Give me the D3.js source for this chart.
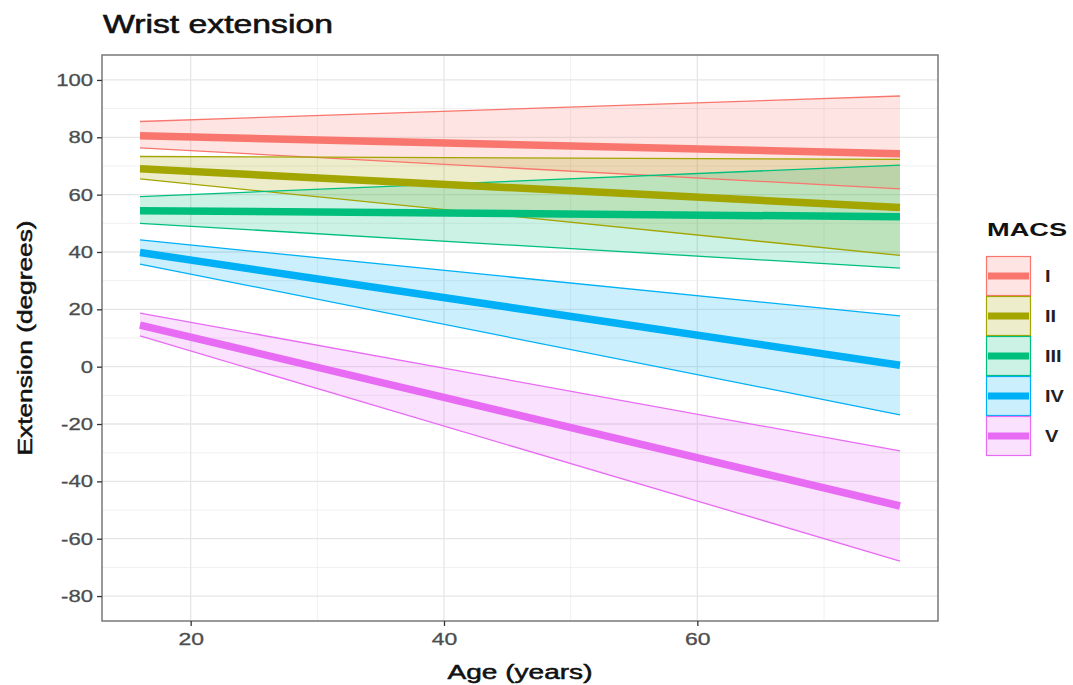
<!DOCTYPE html>
<html>
<head>
<meta charset="utf-8">
<script src="https://cdn.jsdelivr.net/npm/d3@7"></script>
<style>
  body { margin: 0; background: #fff; }
  text { font-family: "Liberation Sans", Arial, sans-serif; }
</style>
</head>
<body>
<div id="chart"></div>
<script>
// age range covered by the fitted lines
const ages = [16, 76];
const groups = ["I", "II", "III", "IV", "V"];
const palette = ["#F8766D", "#A3A500", "#00BF7D", "#00B0F6", "#E76BF3"];

// [value at 16, value at 76] per MACS level
const fitLine = [[80.5, 74.3], [69, 55.5], [54.4, 52.3], [39.8, 0.5], [14.5, -48.6]];
const upperCI = [[85.5, 94.4], [73.3, 72.3], [59.3, 70.3], [44.2, 17.7], [18.7, -29.4]];
const lowerCI = [[76.3, 62], [65.5, 38.8], [50, 34.4], [35.8, -16.8], [10.7, -67.8]];

const xTicks = [20, 40, 60];
const xMinor = [30, 50, 70];
const yTicks = [-80, -60, -40, -20, 0, 20, 40, 60, 80, 100];
const yMinor = [-70, -50, -30, -10, 10, 30, 50, 70, 90];

const W = 1073, H = 685;
const panel = { left: 102, right: 938, top: 55, bottom: 621 };

const svg = d3.select("#chart")
  .append("svg")
  .attr("width", W)
  .attr("height", H);

const x = d3.scaleLinear().domain([13, 79]).range([panel.left, panel.right]);
const y = d3.scaleLinear().domain([-88.7, 108.7]).range([panel.bottom, panel.top]);

// stretch text horizontally, the source picture is wider than it is tall
function stretch(sel, k) {
  sel.each(function () {
    const len = this.getComputedTextLength();
    d3.select(this).attr("textLength", len * k).attr("lengthAdjust", "spacingAndGlyphs");
  });
}

// grid
const grid = svg.append("g");
grid.selectAll("line.ymin").data(yMinor).join("line")
  .attr("x1", panel.left).attr("x2", panel.right)
  .attr("y1", d => y(d)).attr("y2", d => y(d))
  .attr("stroke", "#f0f0f0").attr("stroke-width", 1);
grid.selectAll("line.xmin").data(xMinor).join("line")
  .attr("y1", panel.top).attr("y2", panel.bottom)
  .attr("x1", d => x(d)).attr("x2", d => x(d))
  .attr("stroke", "#f0f0f0").attr("stroke-width", 1);
grid.selectAll("line.ymaj").data(yTicks).join("line")
  .attr("x1", panel.left).attr("x2", panel.right)
  .attr("y1", d => y(d)).attr("y2", d => y(d))
  .attr("stroke", "#e6e6e6").attr("stroke-width", 1.3);
grid.selectAll("line.xmaj").data(xTicks).join("line")
  .attr("y1", panel.top).attr("y2", panel.bottom)
  .attr("x1", d => x(d)).attr("x2", d => x(d))
  .attr("stroke", "#e6e6e6").attr("stroke-width", 1.3);

// ribbons
const area = d3.area()
  .x((d, i) => x(ages[i]))
  .y0(d => y(d[0]))
  .y1(d => y(d[1]));
const line = d3.line()
  .x((d, i) => x(ages[i]))
  .y(d => y(d));

const bands = groups.map((g, i) => ({
  g, i,
  band: ages.map((a, j) => [lowerCI[i][j], upperCI[i][j]])
}));

svg.append("g").selectAll("path")
  .data(bands).join("path")
  .attr("d", d => area(d.band))
  .attr("fill", d => palette[d.i])
  .attr("fill-opacity", 0.2);

svg.append("g").selectAll("path")
  .data(groups.flatMap((g, i) => [upperCI[i], lowerCI[i]].map(v => ({ i, v }))))
  .join("path")
  .attr("d", d => line(d.v))
  .attr("fill", "none")
  .attr("stroke", d => palette[d.i])
  .attr("stroke-width", 1.3);

svg.append("g").selectAll("path")
  .data(groups.map((g, i) => ({ i, v: fitLine[i] })))
  .join("path")
  .attr("d", d => line(d.v))
  .attr("fill", "none")
  .attr("stroke", d => palette[d.i])
  .attr("stroke-width", 7.5);

// panel border
svg.append("rect")
  .attr("x", panel.left).attr("y", panel.top)
  .attr("width", panel.right - panel.left)
  .attr("height", panel.bottom - panel.top)
  .attr("fill", "none")
  .attr("stroke", "#808080")
  .attr("stroke-width", 1.6);

// axes (plain hyphen for negatives, as in the source)
const fmt = d => String(d);
const xAxis = svg.append("g")
  .attr("transform", `translate(0,${panel.bottom})`)
  .call(d3.axisBottom(x).tickValues(xTicks).tickFormat(fmt).tickSize(5).tickSizeOuter(0).tickPadding(4));
const yAxis = svg.append("g")
  .attr("transform", `translate(${panel.left},0)`)
  .call(d3.axisLeft(y).tickValues(yTicks).tickFormat(fmt).tickSize(5).tickSizeOuter(0).tickPadding(4));
[xAxis, yAxis].forEach(a => {
  a.select(".domain").remove();
  a.selectAll(".tick line").attr("stroke", "#333").attr("stroke-width", 1.3);
  a.selectAll(".tick text")
    .attr("fill", "#4d4d4d")
    .attr("stroke", "#4d4d4d").attr("stroke-width", 0.3)
    .style("font-size", "17px")
    .style("font-family", "'Liberation Sans', Arial, sans-serif");
});
xAxis.selectAll(".tick text").attr("dy", "0.9em");
stretch(xAxis.selectAll(".tick text"), 1.35);
stretch(yAxis.selectAll(".tick text"), 1.3);

// titles
svg.append("text")
  .attr("x", 103).attr("y", 33)
  .style("font-size", "26px")
  .attr("fill", "#111").attr("stroke", "#111").attr("stroke-width", 0.6)
  .attr("textLength", 230).attr("lengthAdjust", "spacingAndGlyphs")
  .text("Wrist extension");

svg.append("text")
  .attr("x", (panel.left + panel.right) / 2).attr("y", 679)
  .attr("text-anchor", "middle")
  .style("font-size", "20px")
  .attr("fill", "#111").attr("stroke", "#111").attr("stroke-width", 0.5)
  .attr("textLength", 145).attr("lengthAdjust", "spacingAndGlyphs")
  .text("Age (years)");

svg.append("text")
  .attr("transform", `translate(32,${(panel.top + panel.bottom) / 2}) rotate(-90)`)
  .attr("text-anchor", "middle")
  .style("font-size", "20px")
  .attr("fill", "#111").attr("stroke", "#111").attr("stroke-width", 0.5)
  .attr("textLength", 235).attr("lengthAdjust", "spacingAndGlyphs")
  .text("Extension (degrees)");

// legend
const legend = svg.append("g").attr("transform", "translate(986,256)");
legend.append("text")
  .attr("x", 1).attr("y", -20)
  .style("font-size", "18px").style("font-weight", "bold")
  .attr("fill", "#111")
  .attr("textLength", 80).attr("lengthAdjust", "spacingAndGlyphs")
  .text("MACS");

const keyH = 40, keyW = 44;
const keys = legend.selectAll("g.key")
  .data(groups).join("g")
  .attr("transform", (d, i) => `translate(0,${i * keyH})`);
keys.append("rect")
  .attr("x", 0.5).attr("y", 0.5)
  .attr("width", keyW).attr("height", keyH - 1)
  .attr("fill", (d, i) => palette[i]).attr("fill-opacity", 0.2)
  .attr("stroke", (d, i) => palette[i]).attr("stroke-width", 1.2);
keys.append("line")
  .attr("x1", 2).attr("x2", keyW - 1)
  .attr("y1", keyH / 2).attr("y2", keyH / 2)
  .attr("stroke", (d, i) => palette[i]).attr("stroke-width", 7);
const keyLabels = keys.append("text")
  .attr("x", keyW + 15).attr("y", keyH / 2 + 6)
  .style("font-size", "16px").style("font-weight", "bold")
  .attr("fill", "#222")
  .text(d => d);
stretch(keyLabels, 1.25);
</script>
</body>
</html>
